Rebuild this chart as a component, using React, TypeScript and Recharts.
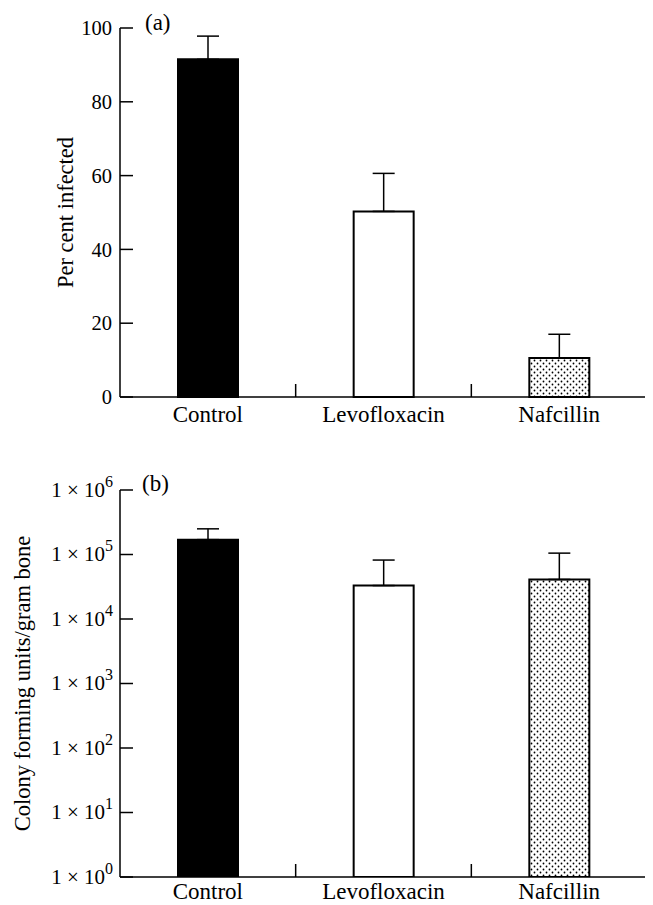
import { BarChart, Bar, XAxis, YAxis, ErrorBar, Cell, Label } from 'recharts';

const treatments = ['Control', 'Levofloxacin', 'Nafcillin'];
const infectedPct = [91.5, 50.3, 10.6];
const infectedErr = [6.3, 10.3, 6.4];
const cfuMean = [170000, 33000, 41000];
const cfuErr = [80000, 49000, 64000];
const pctTicks = [0, 20, 40, 60, 80, 100];
const cfuTicks = [1, 10, 100, 1000, 10000, 100000, 1000000];

const fills = ['#000', '#fff', 'url(#dots)'];

const dataA = treatments.map((name, i) => ({ name, value: infectedPct[i], err: [0, infectedErr[i]] }));
const dataB = treatments.map((name, i) => ({ name, value: cfuMean[i], err: [0, cfuErr[i]] }));

const FONT = '"Liberation Serif", "Times New Roman", serif';
const W = 645;
const YW = 112;
const MR = 6;
const BAND = (W - YW - MR) / 3;

// category label plus an inward tick at the right edge of each band
const XTick = (props: any) => {
  const { x, y, payload, tm } = props;
  const axisY = y - tm;
  return (
    <g>
      <line x1={x + BAND / 2} x2={x + BAND / 2} y1={axisY} y2={axisY - 13} stroke="#000" strokeWidth={1.5} />
      <text x={x} y={y} dy="0.71em" textAnchor="middle" fontFamily={FONT} fontSize={23} fill="#000">
        {payload.value}
      </text>
    </g>
  );
};

const PctTick = (props: any) => {
  const { x, y, payload } = props;
  return (
    <g>
      <line x1={x + 8} x2={x + 21} y1={y} y2={y} stroke="#000" strokeWidth={1.5} />
      <text x={x} y={y} dy="0.35em" textAnchor="end" fontFamily={FONT} fontSize={20.5} fill="#000">
        {payload.value}
      </text>
    </g>
  );
};

const LogTick = (props: any) => {
  const { x, y, payload } = props;
  const exp = Math.round(Math.log10(payload.value));
  return (
    <g>
      <line x1={x + 8} x2={x + 21} y1={y} y2={y} stroke="#000" strokeWidth={1.5} />
      <text x={x + 1} y={y} dy="0.33em" textAnchor="end" fontFamily={FONT} fontSize={21} fill="#000">
        <tspan>1 × 10</tspan>
        <tspan dy={-10} fontSize={16}>{exp}</tspan>
      </text>
    </g>
  );
};

const yLabel = (text: string, x: number) => (props: any) => {
  const vb = props.viewBox;
  const cy = vb.y + vb.height / 2;
  return (
    <text x={x} y={cy} transform={`rotate(-90 ${x} ${cy})`} textAnchor="middle" dominantBaseline="central"
      fontFamily={FONT} fontSize={22.5} fill="#000">
      {text}
    </text>
  );
};

export default function App() {
  return (
    <div>
      <svg width={0} height={0} style={{ position: 'absolute' }}>
        <defs>
          <pattern id="dots" width={6} height={6} patternUnits="userSpaceOnUse">
            <rect width={6} height={6} fill="#fff" />
            <circle cx={1.5} cy={1.5} r={0.9} fill="#000" />
            <circle cx={4.5} cy={4.5} r={0.9} fill="#000" />
          </pattern>
        </defs>
      </svg>
      <BarChart width={W} height={440} data={dataA} margin={{ top: 20, right: MR, left: 0, bottom: 21 }}>
        <XAxis dataKey="name" height={30} tickSize={0} tickMargin={9} tick={<XTick tm={9} />}
          axisLine={{ stroke: '#000', strokeWidth: 1.5 }} tickLine={false} />
        <YAxis width={YW} domain={[0, 100]} ticks={pctTicks} tickSize={0} tickMargin={8} tick={<PctTick />}
          axisLine={{ stroke: '#000', strokeWidth: 1.5 }} tickLine={false}>
          <Label content={yLabel('Per cent infected', 57)} />
        </YAxis>
        <Bar dataKey="value" barSize={60} stroke="#000" strokeWidth={2} isAnimationActive={false}>
          {dataA.map((d, i) => <Cell key={d.name} fill={fills[i]} />)}
          <ErrorBar dataKey="err" width={11} stroke="#000" strokeWidth={1.5} />
        </Bar>
        <text x={137} y={14} dominantBaseline="central" fontFamily={FONT} fontSize={23} fill="#000">(a)</text>
      </BarChart>
      <BarChart width={W} height={457} data={dataB} margin={{ top: 42, right: MR, left: 0, bottom: 0 }}>
        <XAxis dataKey="name" height={28} tickSize={0} tickMargin={6} tick={<XTick tm={6} />}
          axisLine={{ stroke: '#000', strokeWidth: 1.5 }} tickLine={false} />
        <YAxis width={YW} scale="log" domain={[1, 1000000]} ticks={cfuTicks} allowDataOverflow tickSize={0}
          tickMargin={8} tick={<LogTick />} axisLine={{ stroke: '#000', strokeWidth: 1.5 }} tickLine={false}>
          <Label content={yLabel('Colony forming units/gram bone', 14)} />
        </YAxis>
        <Bar dataKey="value" barSize={60} stroke="#000" strokeWidth={2} isAnimationActive={false}>
          {dataB.map((d, i) => <Cell key={d.name} fill={fills[i]} />)}
          <ErrorBar dataKey="err" width={11} stroke="#000" strokeWidth={1.5} />
        </Bar>
        <text x={134} y={35} dominantBaseline="central" fontFamily={FONT} fontSize={23} fill="#000">(b)</text>
      </BarChart>
    </div>
  );
}
